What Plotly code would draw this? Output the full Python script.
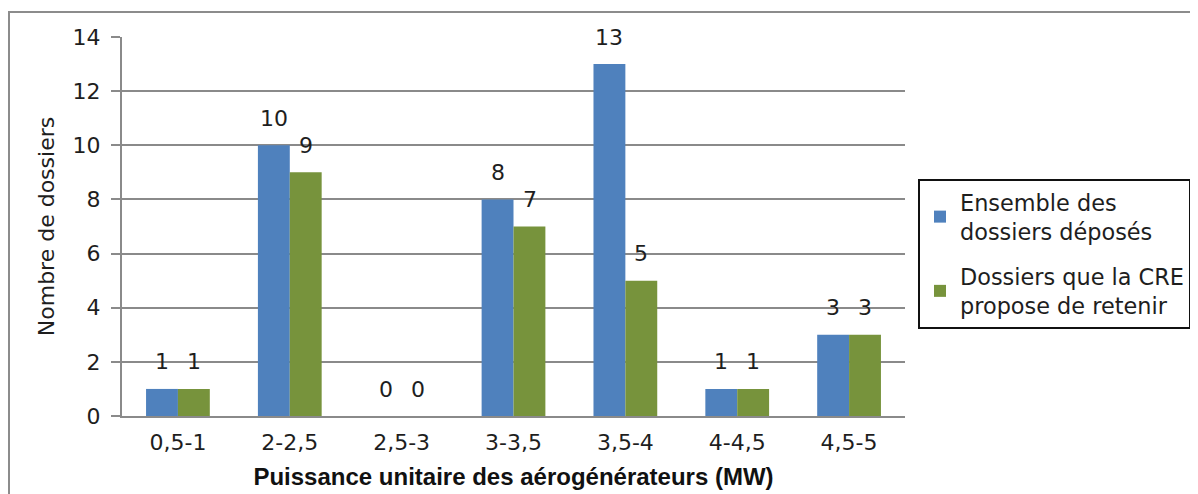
import plotly.graph_objects as go

categories = ["0,5-1", "2-2,5", "2,5-3", "3-3,5", "3,5-4", "4-4,5", "4,5-5"]
ensemble = [1, 10, 0, 8, 13, 1, 3]
retenus = [1, 9, 0, 7, 5, 1, 3]
series_names = ["Ensemble des<br>dossiers déposés", "Dossiers que la CRE<br>propose de retenir"]
y_ticks = [0, 2, 4, 6, 8, 10, 12, 14]

BLUE = "#4F81BD"
GREEN = "#77933C"
GRID = "#8A8A8A"
FONT = "DejaVu Sans"
TXT = "#1E1E1E"

# page body has an 8px margin: compensate so marks land where the reference has them
OFF = 8
W, H = 1198, 494
L, R, T, B = 122 - OFF, 293 + OFF, 37 - OFF, 78 + OFF
pw, ph = W - L - R, H - T - B


def px_x(p):
    return (p - OFF - L) / pw


def px_y(p):
    return (H - B - (p - OFF)) / ph


fig = go.Figure()
fig.add_trace(go.Bar(x=categories, y=ensemble, name=series_names[0], marker_color=BLUE,
                     marker_line_width=0, legendgroup="a"))
fig.add_trace(go.Bar(x=categories, y=retenus, name=series_names[1], marker_color=GREEN,
                     marker_line_width=0, legendgroup="b"))

# data labels
for vals, shift in ((ensemble, -16), (retenus, 16)):
    for c, v in zip(categories, vals):
        fig.add_annotation(x=c, y=v, text=str(v), showarrow=False, xshift=shift,
                           yshift=27, font=dict(family=FONT, size=22, color=TXT))

# outer chart border
fig.add_shape(type="rect", xref="paper", yref="paper",
              x0=px_x(9), x1=px_x(1220), y0=px_y(520), y1=px_y(12),
              line=dict(color="#8C8C8C", width=2), fillcolor="rgba(0,0,0,0)", layer="below")

fig.update_layout(
    width=W, height=H,
    margin=dict(l=L, r=R, t=T, b=B, autoexpand=False),
    paper_bgcolor="white", plot_bgcolor="white",
    barmode="group", bargap=0.43, bargroupgap=0,
    font=dict(family=FONT, size=22, color=TXT),
    legend=dict(x=px_x(918), y=px_y(179), xanchor="left", yanchor="top",
                bordercolor="#111", borderwidth=2, bgcolor="white",
                font=dict(family=FONT, size=22.4, color=TXT),
                tracegroupgap=13, itemwidth=30),
    xaxis=dict(showline=True, linecolor=GRID, linewidth=2, ticks="",
               tickfont=dict(family=FONT, size=22, color=TXT), ticklabelstandoff=6,
               title=dict(text="<b>Puissance unitaire des aérogénérateurs (MW)</b>",
                          font=dict(family="Liberation Sans", size=24, color="#111"),
                          standoff=14)),
    yaxis=dict(range=[0, 14], tickvals=y_ticks, showgrid=True, gridcolor=GRID, gridwidth=2,
               showline=True, linecolor=GRID, linewidth=2, ticks="outside", ticklen=9,
               tickcolor=GRID, tickwidth=2, zeroline=False, ticklabelstandoff=6,
               tickfont=dict(family=FONT, size=22, color=TXT),
               title=dict(text="Nombre de dossiers",
                          font=dict(family=FONT, size=22, color=TXT), standoff=12)),
)

fig.write_html("out.html")
